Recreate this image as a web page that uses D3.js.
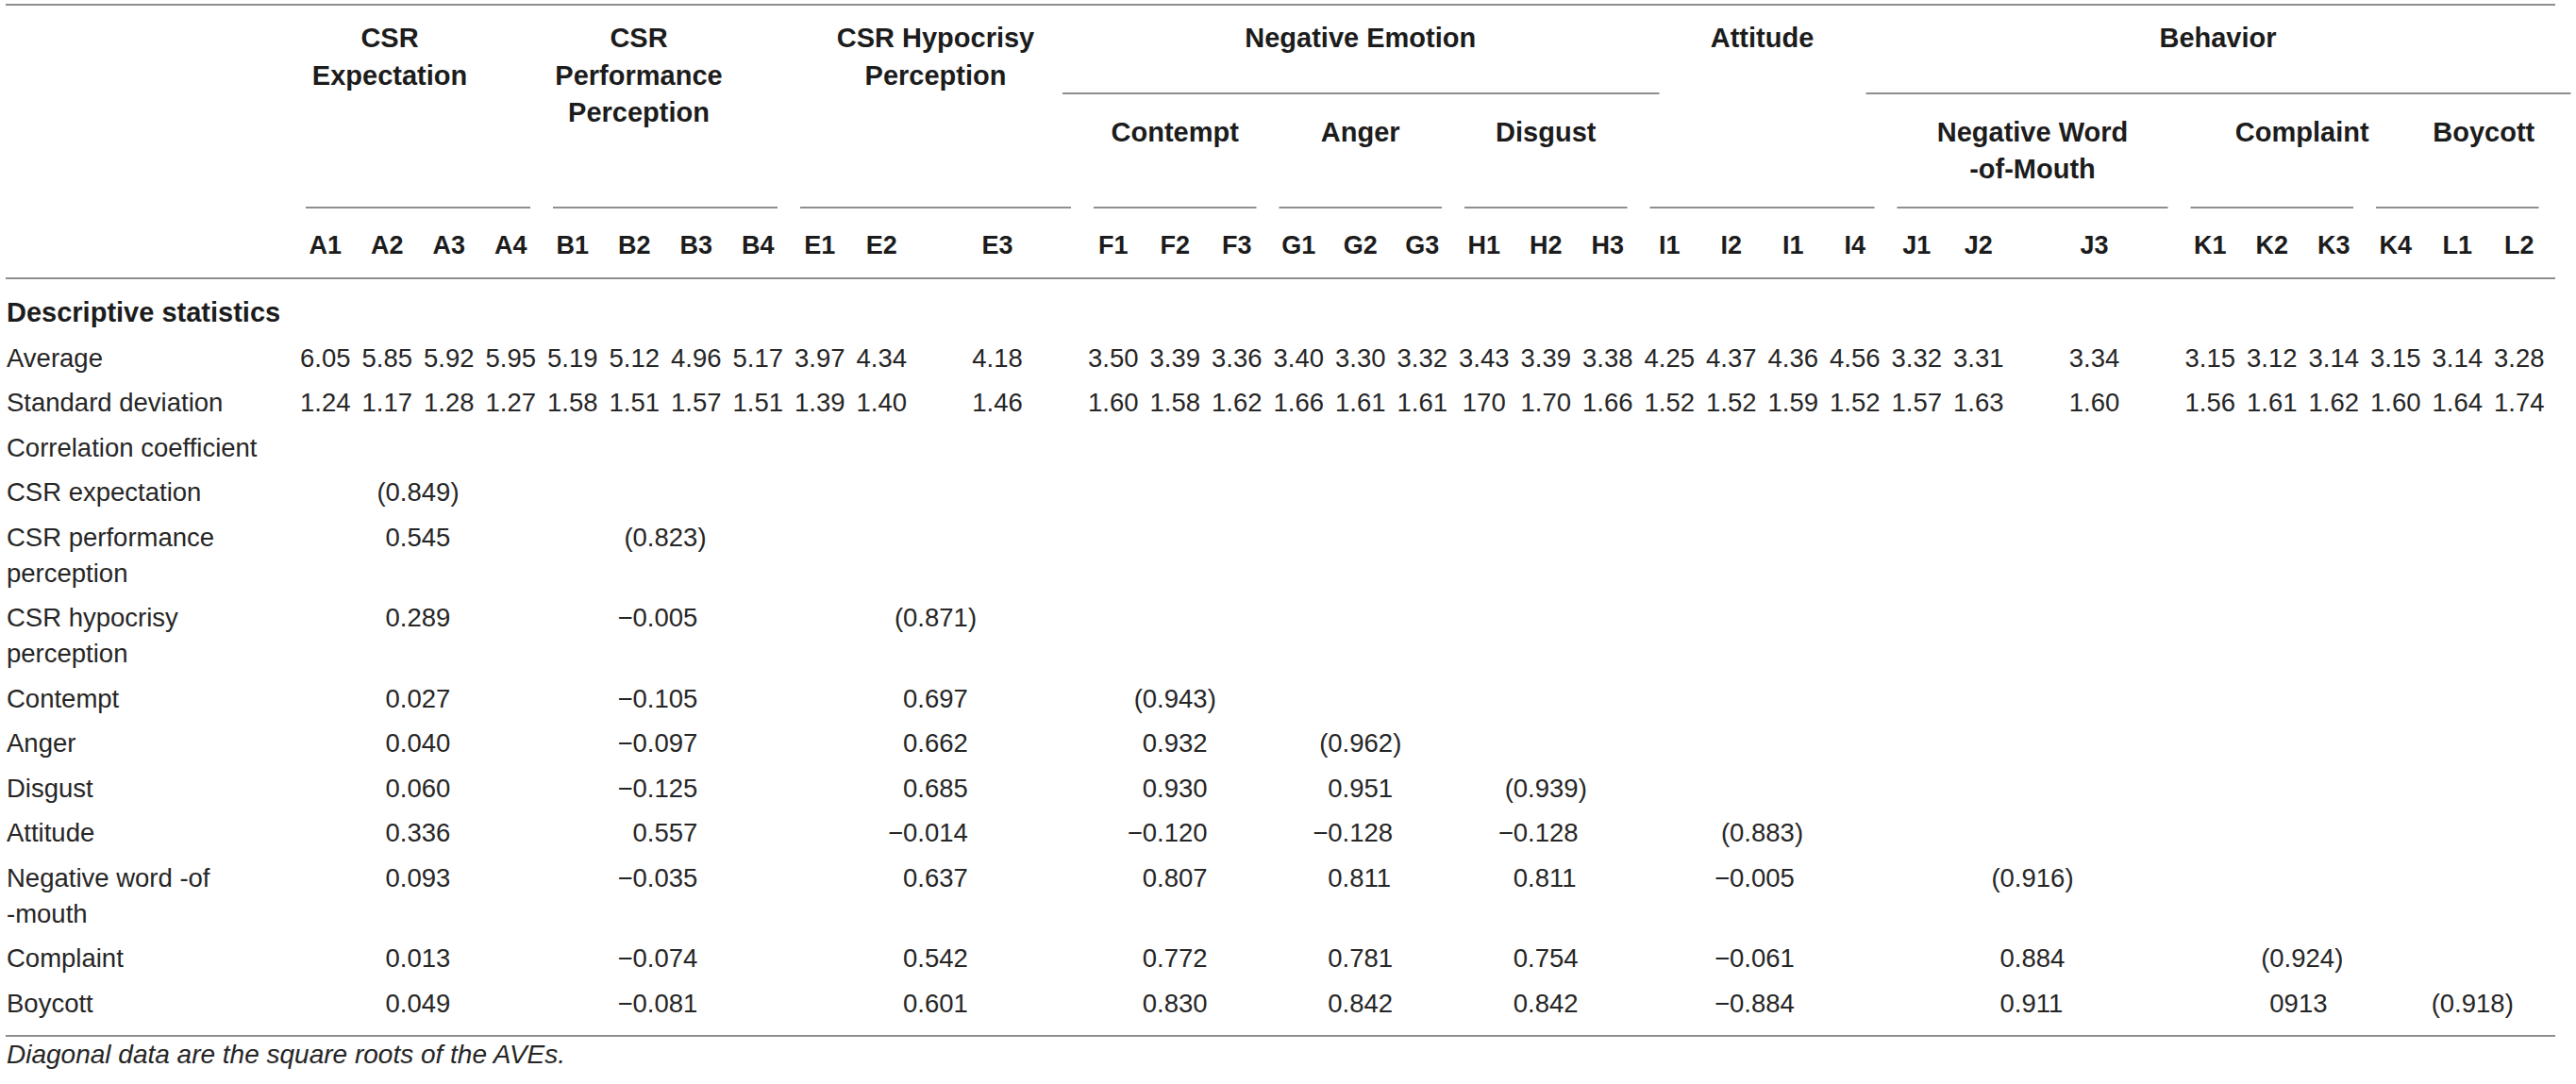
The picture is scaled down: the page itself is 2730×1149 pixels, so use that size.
<!DOCTYPE html>
<html><head><meta charset="utf-8">
<script src="https://cdn.jsdelivr.net/npm/d3@7"></script>
<style>html,body{margin:0;padding:0;background:#fff;} svg{display:block;}</style>
</head><body>
<svg id="chart" width="2730" height="1149"></svg>
<script>
// ---------------- DATA ----------------
const codes = ["A1","A2","A3","A4","B1","B2","B3","B4","E1","E2","E3","F1","F2","F3","G1","G2","G3","H1","H2","H3","I1","I2","I1","I4","J1","J2","J3","K1","K2","K3","K4","L1","L2"];
const averages = [6.05,5.85,5.92,5.95,5.19,5.12,4.96,5.17,3.97,4.34,4.18,3.50,3.39,3.36,3.40,3.30,3.32,3.43,3.39,3.38,4.25,4.37,4.36,4.56,3.32,3.31,3.34,3.15,3.12,3.14,3.15,3.14,3.28];
const stdDevs = [1.24,1.17,1.28,1.27,1.58,1.51,1.57,1.51,1.39,1.40,1.46,1.60,1.58,1.62,1.66,1.61,1.61,170,1.70,1.66,1.52,1.52,1.59,1.52,1.57,1.63,1.60,1.56,1.61,1.62,1.60,1.64,1.74];
const topHeaders = [["CSR","Expectation"],["CSR","Performance","Perception"],["CSR Hypocrisy","Perception"],["Negative Emotion"],["Attitude"],["Behavior"]];
const topSpans = [[0,3],[4,7],[8,10],[11,19],[20,23],[24,32]];
const subHeaders = [[],[],[],["Contempt"],["Anger"],["Disgust"],[],["Negative Word","-of-Mouth"],["Complaint"],["Boycott"]];
const subSpans = [[0,3],[4,7],[8,10],[11,13],[14,16],[17,19],[20,23],[24,26],[27,29],[30,32]];
const sectionLabels = ["Descriptive statistics","Average","Standard deviation","Correlation coefficient"];
const corrLabels = [["CSR expectation"],["CSR performance","perception"],["CSR hypocrisy","perception"],["Contempt"],["Anger"],["Disgust"],["Attitude"],["Negative word -of","-mouth"],["Complaint"],["Boycott"]];
const correlations = [
  [0.849],
  [0.545,0.823],
  [0.289,-0.005,0.871],
  [0.027,-0.105,0.697,0.943],
  [0.040,-0.097,0.662,0.932,0.962],
  [0.060,-0.125,0.685,0.930,0.951,0.939],
  [0.336,0.557,-0.014,-0.120,-0.128,-0.128,0.883],
  [0.093,-0.035,0.637,0.807,0.811,0.811,-0.005,0.916],
  [0.013,-0.074,0.542,0.772,0.781,0.754,-0.061,0.884,0.924],
  [0.049,-0.081,0.601,0.830,0.842,0.842,-0.884,0.911,913,0.918]
];
const footnote = "Diagonal data are the square roots of the AVEs.";

// ---------------- LAYOUT ----------------
const W = 2730, H = 1149;
const FONT = "'Liberation Sans', Arial, Helvetica, sans-serif";
const bodySize = 27.5, headSize = 29, codeSize = 27;
const textCol = "#262626", headCol = "#1c1c1c", ruleCol = "#8e8e8e";
const wideCols = new Set([10, 26]);
const wideUnits = 180 / 65.5;

const svg = d3.select("#chart");
svg.append("rect").attr("width", W).attr("height", H).attr("fill", "#fff");

// column unit positions
const cum = [0];
codes.forEach((c, i) => cum.push(cum[i] + (wideCols.has(i) ? wideUnits : 1)));
const x = d3.scaleLinear().domain([0, cum[cum.length - 1]]).range([312, 2702.5]);
const colStart = i => x(cum[i]);
const colEnd = i => x(cum[i + 1]);
const colCenter = i => (colStart(i) + colEnd(i)) / 2;
const spanCenter = s => (colStart(s[0]) + colEnd(s[1])) / 2;

// rows (body)
const bodyRows = [];
sectionLabels.forEach((l, i) => bodyRows.push({ lines: [l], bold: i === 0, kind: ["desc","avg","sd","corrhead"][i] }));
corrLabels.forEach((l, i) => bodyRows.push({ lines: l, bold: false, kind: "corr", idx: i }));
let u = 0;
bodyRows.forEach(r => { r.u = u; u += 1 + (r.lines.length > 1 ? 0.8 : 0); });
const y = d3.scaleLinear().domain([0, 1]).range([341, 388.5]);
const lineGap = 38;

// rules
function rule(x1, x2, yy) {
  svg.append("line").attr("x1", x1).attr("x2", x2).attr("y1", yy).attr("y2", yy)
    .attr("stroke", ruleCol).attr("stroke-width", 2);
}
rule(6, 2708, 5);
rule(6, 2708, 295);
rule(6, 2708, 1098);

// text helper
function txt(s, xx, yy, opts = {}) {
  return svg.append("text").attr("x", xx).attr("y", yy)
    .attr("font-family", FONT)
    .attr("font-size", opts.size || bodySize)
    .attr("font-weight", opts.bold ? "bold" : "normal")
    .attr("font-style", opts.italic ? "italic" : "normal")
    .attr("fill", opts.bold ? headCol : textCol)
    .attr("text-anchor", opts.anchor || "start")
    .text(s);
}

// top-level headers
const topShift = [-30, -28, 0, 0, 0, 0];
const topBase = [50, 90, 129];
topHeaders.forEach((lines, g) => {
  const cx = spanCenter(topSpans[g]) + topShift[g];
  lines.forEach((l, k) => txt(l, cx, topBase[k], { bold: true, size: headSize, anchor: "middle" }));
});
// level-1 underline for groups that have sub headers
[3, 5].forEach(g => {
  const s = topSpans[g];
  rule(colStart(s[0]) - 21, colEnd(s[1]) + 22, 99);
});

// sub headers
const subShift = [0, 0, 0, 0, 0, 0, 0, 0, 32, 28];
const subBase = [150, 189];
subHeaders.forEach((lines, g) => {
  const cx = spanCenter(subSpans[g]) + subShift[g];
  lines.forEach((l, k) => txt(l, cx, subBase[k], { bold: true, size: headSize, anchor: "middle" }));
});
// group underlines
subSpans.forEach(s => rule(colStart(s[0]) + 12, colEnd(s[1]) - 12, 220));

// codes row
codes.forEach((c, i) => txt(c, colCenter(i), 269, { bold: true, size: codeSize, anchor: "middle" }));

// body labels
bodyRows.forEach(r => {
  r.lines.forEach((l, k) => txt(l, 7, y(r.u) + k * lineGap, { bold: r.bold, size: r.bold ? headSize : bodySize }));
});

// descriptive values
const fmt2 = d3.format(".2f");
const rowAvg = bodyRows.find(r => r.kind === "avg");
const rowSd = bodyRows.find(r => r.kind === "sd");
averages.forEach((v, i) => txt(fmt2(v), colCenter(i), y(rowAvg.u), { anchor: "middle" }));
stdDevs.forEach((v, i) => txt(v >= 10 ? String(v) : fmt2(v), colCenter(i), y(rowSd.u), { anchor: "middle" }));

// correlations (decimal aligned within group span)
const meas = svg.append("text").attr("font-family", FONT).attr("font-size", bodySize).attr("visibility", "hidden");
const tw = s => { if (!s) return 0; meas.text(s); return meas.node().getComputedTextLength(); };
const baseW = tw("0.000");
const corrShift = [0, 0, 0, 0, 0, 0, 0, 0, 32, 16];
const fmt3 = d3.format(".3f");
bodyRows.filter(r => r.kind === "corr").forEach(r => {
  correlations[r.idx].forEach((v, j) => {
    const diag = j === r.idx;
    let s = Math.abs(v) >= 1 ? "0" + v : fmt3(v);
    if (diag) s = "(" + s + ")";
    const prefix = s.match(/^[^0-9]*/)[0];
    const x0 = spanCenter(subSpans[j]) + corrShift[j] - baseW / 2;
    txt(s, x0 - tw(prefix), y(r.u));
  });
});
meas.remove();

// footnote
txt(footnote, 7, 1127, { italic: true, size: 28 });
</script>
</body></html>
